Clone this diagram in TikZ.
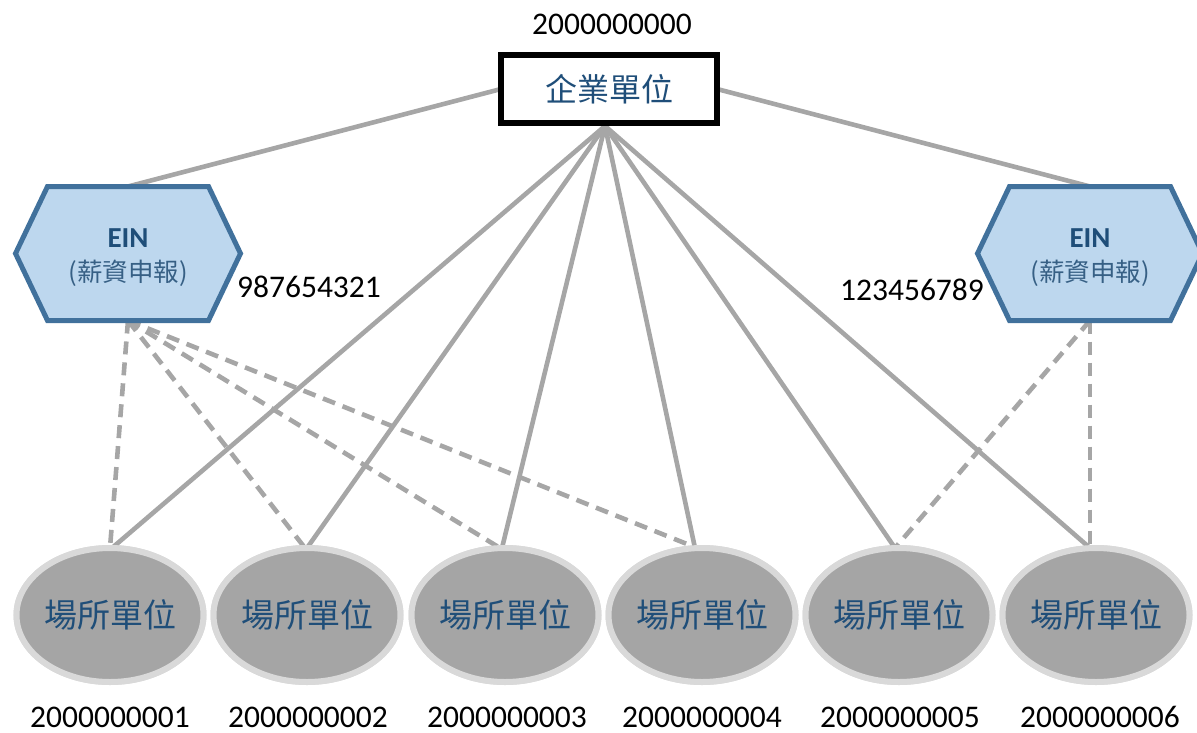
\documentclass[tikz,border=0pt]{standalone}
\usepackage{fontspec}
\setmainfont{Carlito}
\newfontfamily\cjk{Noto Sans CJK TC}
\usetikzlibrary{shapes.geometric,calc}
\definecolor{linegray}{HTML}{A6A6A6}
\definecolor{ovalfill}{HTML}{A5A5A5}
\definecolor{ovalrim}{HTML}{D9D9D9}
\definecolor{navy}{HTML}{1F4E79}
\definecolor{hexrim}{HTML}{41719C}
\definecolor{hexfill}{HTML}{BDD7EE}
\tikzset{
  link/.style={draw=linegray, line width=4.6pt},
  dashlink/.style={draw=linegray, line width=4.6pt, dash pattern=on 13pt off 8pt},
  unitbox/.style={draw=black, fill=white, line width=6pt, minimum width=216pt,
    minimum height=68pt, inner sep=0pt, outer sep=0pt, text=navy,
    font=\cjk\fontsize{32}{36}\selectfont},
  siteoval/.style={ellipse, draw=ovalrim, fill=ovalfill, line width=6pt,
    minimum width=187pt, minimum height=134pt, inner sep=0pt, outer sep=0pt,
    text=navy, font=\cjk\fontsize{33}{36}\selectfont},
  einbox/.style={minimum width=225pt, minimum height=134pt, inner sep=0pt,
    outer sep=0pt, align=center, text=navy},
  hexagon/.style={draw=hexrim, fill=hexfill, line width=5pt, line join=miter},
  idlabel/.style={font=\fontsize{31.5}{36}\selectfont, text=black, inner sep=0pt,
    anchor=base, text height=20pt, text depth=0pt},
}
\begin{document}
\begin{tikzpicture}[x=1pt, y=-1pt]
\useasboundingbox (0,0) rectangle (1197,732);
\clip (0,0) rectangle (1197,732);

% anchor points of the shapes
\node[unitbox] (corp) at (609,89) {};
\coordinate (hub) at (605,126);
\node[einbox] (einL) at (128,253.5) {};
\node[einbox] (einR) at (1090,253.5) {};
\foreach \i/\x in {1/110,2/307,3/505,4/702,5/899,6/1096}
  \node[siteoval] (s\i) at (\x,615) {};

% solid links from the enterprise unit
\draw[link] (corp.west) -- (einL.north);
\draw[link] (corp.east) -- (einR.north);
\foreach \i/\dx in {1/2,2/0,3/-3,4/-7,5/-4,6/-6}
  \draw[link] (hub) -- ($(s\i.north)+(\dx,0)$);

% dashed links from the payroll EINs
\foreach \i/\dx in {1/0,2/-2,3/-5,4/-5}
  \draw[dashlink] (einL.south) -- ($(s\i.north)+(\dx,0)$);
\foreach \i/\dx in {5/-4,6/-6}
  \draw[dashlink] (einR.south) -- ($(s\i.north)+(\dx,0)$);

% hexagons for the EINs
\foreach \h in {einL,einR}
  \draw[hexagon] (\h.west) -- ($(\h.north west)+(32,0)$) -- ($(\h.north east)+(-32,0)$)
    -- (\h.east) -- ($(\h.south east)+(-32,0)$) -- ($(\h.south west)+(32,0)$) -- cycle;
\foreach \h in {einL,einR} {
  \node[font=\bfseries\fontsize{29}{30}\selectfont, text=navy] (\h t) at ($(\h.center)+(0,-15)$) {EIN};
  \node[font=\cjk\fontsize{25.5}{30}\selectfont, text=hexrim!85!black] (\h s) at ($(\h.center)+(0,20)$) {(薪資申報)};
}

% enterprise unit on top of the links
\node[unitbox] (corpbox) at (corp) {企業單位};

% sites
\foreach \i in {1,...,6}
  \node[siteoval] (t\i) at (s\i) {場所單位};

% identifiers
\node[idlabel] (idc) at (612,34) {2000000000};
\node[idlabel] (idl) at (309,297) {987654321};
\node[idlabel] (idr) at (912,300) {123456789};
\foreach \i/\x in {1/110,2/308,3/507,4/702,5/900,6/1100}
  \node[idlabel] (n\i) at (\x,727) {200000000\i};
\end{tikzpicture}
\end{document}
